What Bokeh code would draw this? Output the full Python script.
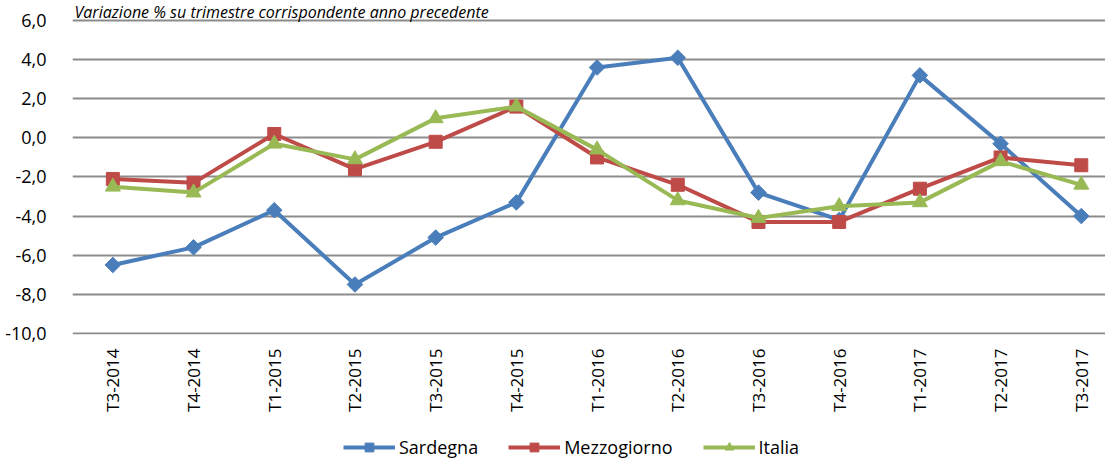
import math
from bokeh.plotting import figure
from bokeh.layouts import column
from bokeh.models import FixedTicker, Legend, LegendItem, Label
from bokeh.embed import file_html
from bokeh.resources import INLINE

periods = ["T3-2014", "T4-2014", "T1-2015", "T2-2015", "T3-2015", "T4-2015",
           "T1-2016", "T2-2016", "T3-2016", "T4-2016", "T1-2017", "T2-2017", "T3-2017"]
sardegna = [-6.5, -5.6, -3.7, -7.5, -5.1, -3.3, 3.6, 4.1, -2.8, -4.2, 3.2, -0.3, -4.0]
mezzogiorno = [-2.1, -2.3, 0.2, -1.6, -0.2, 1.6, -1.0, -2.4, -4.3, -4.3, -2.6, -1.0, -1.4]
italia = [-2.5, -2.8, -0.3, -1.1, 1.0, 1.6, -0.6, -3.2, -4.1, -3.5, -3.3, -1.2, -2.4]
y_ticks = [-10, -8, -6, -4, -2, 0, 2, 4, 6]
title_text = "Variazione % su trimestre corrispondente anno precedente"

FONT = "Open Sans"
W = 1105
xs = list(range(len(periods)))

p = figure(width=W, height=436, x_range=(-0.5, 12.3), y_range=(-10.06, 7.03),
           min_border_left=72, min_border_right=0, min_border_top=0, min_border_bottom=102,
           output_backend="svg", toolbar_location=None)
p.outline_line_color = None
p.background_fill_color = "white"

p.xgrid.grid_line_color = None
p.ygrid.grid_line_color = "#8c8c8c"
p.ygrid.grid_line_width = 2
p.ygrid.ticker = FixedTicker(ticks=y_ticks)

p.yaxis.ticker = FixedTicker(ticks=y_ticks)
p.yaxis.major_label_overrides = {v: f"{v:.1f}".replace(".", ",") for v in y_ticks}
p.yaxis.axis_line_color = None
p.yaxis.major_tick_line_color = None
p.yaxis.minor_tick_line_color = None
p.yaxis.major_label_standoff = 20
p.yaxis.major_label_text_font = FONT
p.yaxis.major_label_text_font_size = "18px"
p.yaxis.major_label_text_color = "#000000"

p.xaxis.ticker = FixedTicker(ticks=xs)
p.xaxis.major_label_overrides = {i: lab for i, lab in enumerate(periods)}
p.xaxis.major_label_orientation = math.pi / 2
p.xaxis.axis_line_color = None
p.xaxis.major_tick_line_color = None
p.xaxis.minor_tick_line_color = None
p.xaxis.major_label_standoff = 8
p.xaxis.major_label_text_font = FONT
p.xaxis.major_label_text_font_size = "17px"
p.xaxis.major_label_text_color = "#000000"

title = Label(x=-0.5, y=7.03, x_offset=2, y_offset=0, text=title_text,
              text_font=FONT, text_font_size="16px", text_font_style="italic",
              text_baseline="top", text_color="#000000")
p.add_layout(title)

# name, values, colour, marker, size, angle
series = [
    ("Sardegna", sardegna, "#4a7ebb", "square", 11, math.pi / 4),
    ("Mezzogiorno", mezzogiorno, "#be4b48", "square", 13, 0.0),
    ("Italia", italia, "#98b954", "triangle", 15, 0.0),
]

# legend-only strip below the chart
lf = figure(width=W, height=24, x_range=(0, 1), y_range=(0, 1), min_border=0,
            x_axis_type=None, y_axis_type=None, output_backend="svg", toolbar_location=None)
lf.outline_line_color = None
lf.grid.grid_line_color = None

items = []
for name, vals, col, mk, sz, ang in series:
    p.line(xs, vals, line_color=col, line_width=4)
    p.scatter(xs, vals, marker=mk, size=sz, angle=ang, fill_color=col, line_color=col)
    # one off-frame point so the legend can draw the glyph
    lr = lf.line([-5], [-5], line_color=col, line_width=4)
    sr = lf.scatter([-5], [-5], marker=mk, size=sz, angle=ang, fill_color=col, line_color=col)
    items.append(LegendItem(label=name, renderers=[lr, sr]))

legend = Legend(items=items, orientation="horizontal", location=(271, 1),
                glyph_width=52, glyph_height=22, label_height=22, label_standoff=4, spacing=30,
                padding=0, margin=0, border_line_color=None, background_fill_alpha=0,
                label_text_font=FONT, label_text_font_size="18px", label_text_color="#000000")
lf.add_layout(legend, "center")

open("out.html", "w").write(file_html(column(p, lf, spacing=0), INLINE))
